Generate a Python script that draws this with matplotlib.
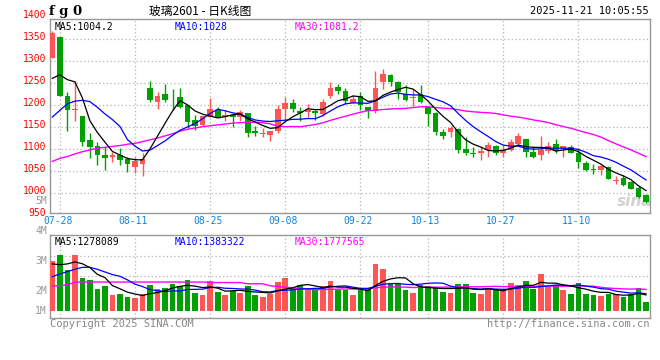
import numpy as np
import pandas as pd
import matplotlib
matplotlib.use("Agg")
import matplotlib.pyplot as plt
import matplotlib.transforms as mtrans

# ---- data ----
dates = ['07-25', '07-28', '07-29', '07-30', '07-31',
         '08-01', '08-04', '08-05', '08-06', '08-07', '08-08', '08-11', '08-12', '08-13',
         '08-14', '08-15', '08-18', '08-19', '08-20', '08-21', '08-22', '08-25', '08-26',
         '08-27', '08-28', '08-29',
         '09-01', '09-02', '09-03', '09-04', '09-05', '09-08', '09-09', '09-10', '09-11',
         '09-12', '09-15', '09-16', '09-17', '09-18', '09-19', '09-22', '09-23', '09-24',
         '09-25', '09-26', '09-29', '09-30',
         '10-09', '10-10', '10-13', '10-14', '10-15', '10-16', '10-17', '10-20', '10-21',
         '10-22', '10-23', '10-24', '10-27', '10-28', '10-29', '10-30', '10-31',
         '11-03', '11-04', '11-05', '11-06', '11-07', '11-10', '11-11', '11-12', '11-13',
         '11-14', '11-17', '11-18', '11-19', '11-20', '11-21']

opens = [1308, 1356, 1221, 1188, 1176, 1120, 1106, 1086, 1083, 1087,
         1077, 1060, 1067, 1240, 1206, 1226, 1214, 1219, 1200, 1167,
         1155, 1173, 1190, 1174, 1177, 1173, 1182, 1142, 1135, 1133,
         1142, 1192, 1205, 1187, 1184, 1187, 1179, 1220, 1241, 1233,
         1205, 1220, 1195, 1186, 1252, 1269, 1253, 1226, 1217, 1226,
         1195, 1183, 1139, 1138, 1146, 1101, 1092, 1090, 1098, 1108,
         1092, 1099, 1112, 1123, 1094, 1086, 1095, 1112, 1103, 1104,
         1091, 1068, 1054, 1052, 1059, 1028, 1035, 1024, 1012, 996]
highs = [1369, 1356, 1229, 1255, 1176, 1136, 1117, 1104, 1093, 1102,
         1083, 1083, 1091, 1254, 1230, 1248, 1237, 1239, 1201, 1178,
         1177, 1217, 1195, 1188, 1180, 1189, 1183, 1153, 1148, 1142,
         1201, 1219, 1214, 1195, 1203, 1189, 1214, 1252, 1248, 1239,
         1223, 1231, 1196, 1278, 1283, 1270, 1254, 1245, 1236, 1246,
         1198, 1184, 1146, 1153, 1147, 1127, 1104, 1106, 1117, 1110,
         1109, 1124, 1137, 1124, 1108, 1129, 1117, 1123, 1108, 1110,
         1102, 1073, 1067, 1064, 1062, 1039, 1041, 1028, 1017, 997]
lows = [1308, 1221, 1140, 1163, 1108, 1079, 1063, 1053, 1070, 1063,
        1047, 1045, 1038, 1207, 1192, 1206, 1189, 1194, 1148, 1144,
        1153, 1172, 1173, 1165, 1150, 1164, 1127, 1130, 1127, 1119,
        1136, 1164, 1185, 1164, 1174, 1167, 1176, 1216, 1225, 1202,
        1205, 1188, 1170, 1183, 1236, 1243, 1213, 1209, 1197, 1205,
        1153, 1133, 1124, 1127, 1092, 1087, 1081, 1074, 1083, 1086,
        1083, 1095, 1108, 1083, 1079, 1076, 1090, 1092, 1083, 1092,
        1056, 1051, 1044, 1042, 1032, 1021, 1017, 1008, 989, 977]
closes = [1364, 1221, 1188, 1192, 1117, 1104, 1087, 1079, 1086, 1076,
          1065, 1073, 1077, 1212, 1221, 1211, 1213, 1195, 1162, 1152,
          1175, 1192, 1173, 1177, 1174, 1184, 1137, 1136, 1137, 1142,
          1192, 1205, 1192, 1181, 1189, 1181, 1208, 1239, 1233, 1209,
          1215, 1200, 1186, 1239, 1271, 1252, 1230, 1211, 1219, 1207,
          1179, 1138, 1129, 1149, 1097, 1092, 1089, 1096, 1110, 1092,
          1098, 1115, 1130, 1093, 1083, 1098, 1108, 1095, 1106, 1092,
          1070, 1053, 1052, 1061, 1033, 1030, 1018, 1010, 991, 979]

# volume in millions
volume = [3.98, 4.45, 3.26, 4.45, 2.62, 2.46, 1.75, 1.99, 1.27, 1.35,
          1.11, 1.03, 1.35, 2.07, 1.75, 1.83, 2.15, 1.99, 2.46, 1.43,
          1.27, 2.39, 1.51, 1.27, 1.59, 1.43, 1.99, 1.27, 1.11, 1.35,
          2.31, 2.62, 1.83, 2.07, 1.67, 1.75, 1.99, 2.39, 1.67, 1.67,
          1.27, 1.67, 1.75, 3.74, 3.34, 2.23, 2.15, 1.67, 1.43, 2.07,
          1.99, 1.91, 1.51, 1.43, 2.15, 2.15, 1.43, 1.35, 1.75, 1.75,
          1.75, 2.23, 2.07, 2.39, 1.75, 2.94, 1.91, 2.07, 1.67, 1.35,
          2.23, 1.35, 1.27, 1.19, 1.35, 1.35, 1.11, 1.35, 1.83, 0.74]

# moving-average values before enough days are on the chart
ma5_head = [1261, 1269, 1258, 1253]
ma10_head = [1173, 1188, 1203, 1209, 1211, 1208, 1195, 1180, 1167]
ma30_head = [1072, 1079, 1083, 1089, 1094, 1098, 1102, 1104, 1106, 1108,
             1111, 1113, 1117, 1121, 1125, 1130, 1135, 1141, 1145, 1148,
             1151, 1153, 1155, 1157, 1159, 1160, 1161, 1161, 1160]
vma5_head = [3.74, 3.68, 3.74, 3.90]
vma10_head = [2.73, 2.94, 3.13, 3.31, 3.47, 3.47, 3.31, 3.10, 2.89]
vma30_head = [1.99, 2.00, 2.10, 2.28, 2.30, 2.30, 2.30, 2.30, 2.30, 2.30,
              2.30, 2.30, 2.30, 2.30, 2.30, 2.30, 2.30, 2.30, 2.30, 2.30,
              2.30, 2.26, 2.26, 2.26, 2.26, 2.26, 2.16, 2.16, 2.16]

# legend values as printed on the chart
price_ma_text = ['MA5:1004.2', 'MA10:1028', 'MA30:1081.2']
vol_ma_text = ['MA5:1278089', 'MA10:1383322', 'MA30:1777565']

label_dates = ['07-28', '08-11', '08-25', '09-08', '09-22', '10-13', '10-27', '11-10']
price_labels = [1400, 1350, 1300, 1250, 1200, 1150, 1100, 1050, 1000, 950]
vol_labels = ['5M', '4M', '3M', '2M', '1M']


def with_head(values, head, n):
    rolled = pd.Series(values).rolling(n).mean().values
    return np.concatenate([head, rolled[len(head):]])


RED = '#ff5555'
GREEN = '#00a000'
GRID = '#b4b4b4'
BORDER = '#999999'
MA_COLORS = ['black', '#0000ff', '#ff00ff']
MONO = ['DejaVu Sans Mono']

W, H = 660, 360
fig = plt.figure(figsize=(6.6, 3.6), dpi=100)


def rect(l, t, r, b):
    return [l / W, 1 - b / H, (r - l) / W, (b - t) / H]


def ftext(x, y, s, **kw):
    kw.setdefault('family', MONO)
    kw.setdefault('fontsize', 7)
    fig.text(x / W, 1 - y / H, s, **kw)


ax = fig.add_axes(rect(50, 19, 650, 213))
axv = fig.add_axes(rect(50, 235, 650, 318))

x = np.arange(len(closes))
o = np.array(opens, float)
c = np.array(closes, float)
colors = [RED if cc >= oo else GREEN for oo, cc in zip(o, c)]
body_h = np.maximum(np.abs(c - o), 2.0)
body_b = np.minimum(o, c)

ax.vlines(x, lows, highs, colors=colors, lw=1.0, zorder=2)
ax.bar(x, body_h, bottom=body_b, width=0.76, color=colors, linewidth=0, zorder=3)

ma5 = with_head(closes, ma5_head, 5)
ma10 = with_head(closes, ma10_head, 10)
ma30 = with_head(closes, ma30_head, 30)
ax.plot(x, ma30, color=MA_COLORS[2], lw=1.0, zorder=4)
ax.plot(x, ma10, color=MA_COLORS[1], lw=0.9, zorder=4)
ax.plot(x, ma5, color=MA_COLORS[0], lw=0.9, zorder=5)

ax.set_ylim(954.5, 1396)

tick_idx = [dates.index(d) for d in label_dates]
for a in (ax, axv):
    a.set_xlim(-0.31, 79.53)
    a.set_xticks([])
    a.set_yticks([])
    for s in a.spines.values():
        s.set_color(BORDER)
        s.set_linewidth(1.0)
    for i in tick_idx:
        a.axvline(i, color=GRID, lw=0.9, ls=(0, (1, 2)), zorder=0)

for p in price_labels[1:-1]:
    ax.axhline(p, color=GRID, lw=0.9, ls=(0, (1, 2)), zorder=0)

ytrans = mtrans.blended_transform_factory(ax.transAxes, ax.transData)
for p in price_labels:
    ax.text(-0.006, p + 4, str(p), transform=ytrans, ha='right', va='center',
            color='#ff0000', fontsize=7, family=MONO, clip_on=False)

xtrans = mtrans.blended_transform_factory(ax.transData, ax.transAxes)
for i, d in zip(tick_idx, label_dates):
    ax.text(i - 0.3, -0.04, d, transform=xtrans, ha='center', va='center',
            color='#1282d6', fontsize=7, family=MONO, clip_on=False)

for xf, s, col in zip([0.008, 0.207, 0.408], price_ma_text, MA_COLORS):
    ax.text(xf, 0.985, s, transform=ax.transAxes, va='top', color=col,
            fontsize=7, family=MONO)
ax.text(0.975, 0.06, 'sina', transform=ax.transAxes, ha='center', va='center',
        color='#d2d2d2', fontsize=11, fontweight='bold', style='italic', zorder=1)

# ---- volume ----
vol = np.array(volume)
axv.bar(x, vol, width=0.76, color=colors, linewidth=0, zorder=3)
vma5 = with_head(volume, vma5_head, 5)
vma10 = with_head(volume, vma10_head, 10)
vma30 = with_head(volume, vma30_head, 30)
axv.plot(x, vma30, color=MA_COLORS[2], lw=1.0, zorder=4)
axv.plot(x, vma10, color=MA_COLORS[1], lw=0.9, zorder=4)
axv.plot(x, vma5, color=MA_COLORS[0], lw=0.9, zorder=5)
axv.set_ylim(-0.56, 6.04)
for f in (0.747, 0.506):
    axv.plot([0, 1], [f, f], transform=axv.transAxes, color=GRID, lw=0.9,
             ls=(0, (1, 2)), zorder=0)

for xf, s, col in zip([0.008, 0.207, 0.408], vol_ma_text, MA_COLORS):
    axv.text(xf, 0.97, s, transform=axv.transAxes, va='top', color=col,
             fontsize=7, family=MONO)

for lab, yy in zip(vol_labels, [201, 231, 261, 291, 311]):
    ftext(47, yy, lab, ha='right', va='center', color='#999999', fontsize=7)

# ---- header / footer ----
ftext(49, 11, 'f g 0', ha='left', va='center', color='black', fontsize=9.5,
      fontweight='bold', family=['DejaVu Serif'])
ftext(200, 11, '玻璃2601 - 日K线图', ha='center', va='center', color='black',
      fontsize=8.5, family=['Noto Sans CJK SC', 'DejaVu Sans'])
ftext(649, 11, '2025-11-21 10:05:55', ha='right', va='center', color='black',
      fontsize=7.5)
ftext(50, 324, 'Copyright 2025 SINA.COM', ha='left', va='center', color='#888888',
      fontsize=7.5)
ftext(649, 324, 'http://finance.sina.com.cn', ha='right', va='center',
      color='#888888', fontsize=7.5)

fig.savefig('out.png', dpi=100, facecolor='white')
